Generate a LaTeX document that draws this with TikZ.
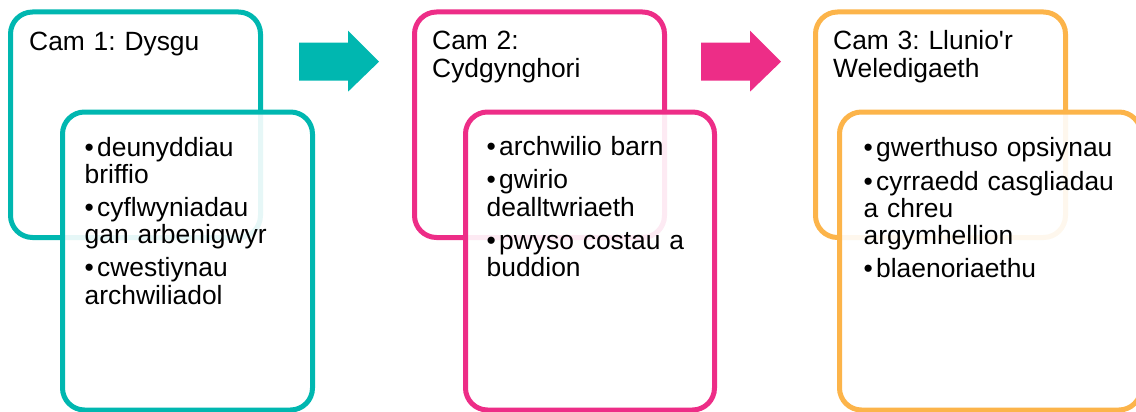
\documentclass[tikz,border=0pt]{standalone}
\usepackage{fontspec}
\setmainfont{Liberation Sans}
\setmonofont{Liberation Sans}
\definecolor{cteal}{RGB}{0,183,176}
\definecolor{cpink}{RGB}{237,45,135}
\definecolor{corange}{RGB}{252,180,74}
\newcommand\bitem[1]{\hangindent=12.5pt\hangafter=1\noindent\makebox[12.5pt][l]{•}#1}
\newcommand\bgap{\par\vspace{5.5pt}}
\frenchspacing
\begin{document}
\begin{tikzpicture}[x=1pt,y=-1pt,
  card/.style={draw, line width=5pt, rounded corners=22pt, inner sep=0pt, outer sep=0pt, anchor=north west},
  backcard/.style={card, minimum width=250pt, minimum height=225.5pt},
  frontcard/.style={card, fill=white, fill opacity=0.9, draw opacity=1},
  txt/.style={anchor=base west, inner sep=0pt, text width=290pt, align=left, font=\fontsize{26.4}{27.5}\selectfont\frenchspacing}
]
\useasboundingbox (0,0) rectangle (1136,412);
\clip (0,0) rectangle (1136,412);

% Stage 1
\node[backcard, draw=cteal] (b1top) at (10.5,12) {};
\node[txt] (t1) at (29,51) {Cam 1: Dysgu};
\node[frontcard, draw=cteal, minimum width=250pt, minimum height=298pt] (b1low) at (62.5,112) {};
\node[txt] (l1) at (84.5,156) {\bitem{deunyddiau\\briffio}\bgap\bitem{cyflwyniadau\\gan arbenigwyr}\bgap\bitem{cwestiynau\\archwiliadol}};

% Stage 2
\node[backcard, draw=cpink] (b2top) at (414.5,12) {};
\node[txt] (t2) at (432,50) {Cam 2:\\Cydgynghori};
\node[frontcard, draw=cpink, minimum width=249pt, minimum height=298pt] (b2low) at (465.5,112) {};
\node[txt] (l2) at (486.5,155.5) {\bitem{archwilio barn}\bgap\bitem{gwirio\\dealltwriaeth}\bgap\bitem{pwyso costau a\\buddion}};

% Stage 3
\node[backcard, draw=corange] (b3top) at (815.5,12) {};
\node[txt] (t3) at (833,50) {Cam 3: Llunio{\ttfamily'}r\\Weledigaeth};
\node[frontcard, draw=corange, minimum width=301.5pt, minimum height=298pt] (b3low) at (839.5,112) {};
\node[txt] (l3) at (863.5,157) {\bitem{gwerthuso opsiynau}\bgap\bitem{cyrraedd casgliadau\\a chreu\\argymhellion}\bgap\bitem{blaenoriaethu}};

% Arrows
\fill[cteal] (299,42.7) -- (348,42.7) -- (348,30.7) -- (379,61.7) -- (348,91.7) -- (348,80.7) -- (299,80.7) -- cycle;
\fill[cpink] (701,42.7) -- (750,42.7) -- (750,30.7) -- (781,61.7) -- (750,91.7) -- (750,80.7) -- (701,80.7) -- cycle;
\end{tikzpicture}
\end{document}
